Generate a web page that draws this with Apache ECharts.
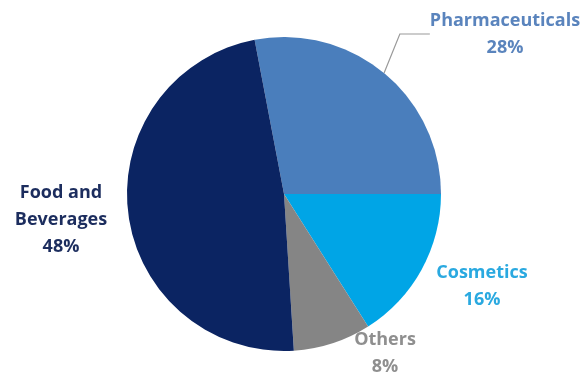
<!DOCTYPE html>
<html><head><meta charset="utf-8">
<script src="https://cdn.jsdelivr.net/npm/echarts@6/dist/echarts.min.js"></script>
<style>html,body{margin:0;padding:0;background:#fff}#c{width:587px;height:376px}</style>
</head><body><div id="c"></div>
<script>
var categories = ['Pharmaceuticals', 'Cosmetics', 'Others', 'Food and\nBeverages'];
var values = [28, 16, 8, 48];
var sliceColors = ['#4a7ebc', '#00a5e6', '#858585', '#0b2462'];
var labelColors = ['#5a84bd', '#2aa9e0', '#8f8f8f', '#1c2d5e'];
var labelPos = [[505, 34], [482, 286], [385, 353], [61, 220]];

var chart = echarts.init(document.getElementById('c'));
chart.setOption({
  animation: false,
  series: [{
    type: 'pie',
    center: [284, 194],
    radius: [0, 157],
    startAngle: 100.8,
    clockwise: true,
    avoidLabelOverlap: false,
    data: categories.map(function (n, i) {
      return {
        name: n, value: values[i],
        itemStyle: { color: sliceColors[i] },
        label: { color: labelColors[i] },
        labelLine: { show: i === 0 }
      };
    }),
    label: {
      show: true,
      position: 'outside',
      formatter: '{b}\n{d}%',
      fontFamily: 'Open Sans',
      fontWeight: 'bold',
      fontSize: 18,
      lineHeight: 27,
      align: 'center'
    },
    labelLine: {
      lineStyle: { color: '#9a9a9a', width: 1.2 }
    },
    labelLayout: function (p) {
      var pos = labelPos[p.dataIndex];
      return { x: pos[0], y: pos[1], align: 'center', verticalAlign: 'middle' };
    }
  }]
});
</script></body></html>
